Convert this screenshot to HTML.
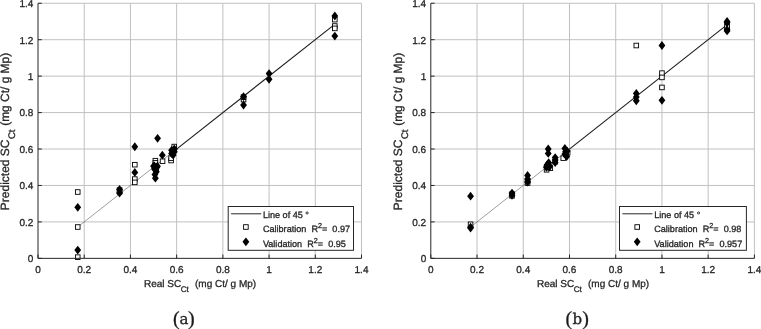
<!DOCTYPE html>
<html><head><meta charset="utf-8"><title>Predicted vs Real SC Ct</title>
<style>html,body{margin:0;padding:0;background:#fff;overflow:hidden}svg{display:block;font-family:'Liberation Sans', sans-serif}text{white-space:pre;text-rendering:geometricPrecision;stroke:#262626;stroke-width:0.3px;paint-order:stroke}</style></head>
<body><svg width="761" height="329" viewBox="0 0 761 329">
<rect width="761" height="329" fill="#fff"/>
<line x1="84.21" y1="258.35" x2="84.21" y2="3.25" stroke="#c0c0c0" stroke-width="1"/>
<line x1="38.0" y1="221.91" x2="361.5" y2="221.91" stroke="#c0c0c0" stroke-width="1"/>
<line x1="130.43" y1="258.35" x2="130.43" y2="3.25" stroke="#c0c0c0" stroke-width="1"/>
<line x1="38.0" y1="185.46" x2="361.5" y2="185.46" stroke="#c0c0c0" stroke-width="1"/>
<line x1="176.64" y1="258.35" x2="176.64" y2="3.25" stroke="#c0c0c0" stroke-width="1"/>
<line x1="38.0" y1="149.02" x2="361.5" y2="149.02" stroke="#c0c0c0" stroke-width="1"/>
<line x1="222.86" y1="258.35" x2="222.86" y2="3.25" stroke="#c0c0c0" stroke-width="1"/>
<line x1="38.0" y1="112.58" x2="361.5" y2="112.58" stroke="#c0c0c0" stroke-width="1"/>
<line x1="269.07" y1="258.35" x2="269.07" y2="3.25" stroke="#c0c0c0" stroke-width="1"/>
<line x1="38.0" y1="76.14" x2="361.5" y2="76.14" stroke="#c0c0c0" stroke-width="1"/>
<line x1="315.29" y1="258.35" x2="315.29" y2="3.25" stroke="#c0c0c0" stroke-width="1"/>
<line x1="38.0" y1="39.69" x2="361.5" y2="39.69" stroke="#c0c0c0" stroke-width="1"/>
<line x1="361.50" y1="258.35" x2="361.50" y2="3.25" stroke="#c0c0c0" stroke-width="1"/>
<line x1="38.0" y1="3.25" x2="361.5" y2="3.25" stroke="#c0c0c0" stroke-width="1"/>
<line x1="77.74" y1="227.01" x2="172.02" y2="152.67" stroke="#262626" stroke-width="0.45"/>
<line x1="170.87" y1="153.58" x2="334.00" y2="24.93" stroke="#1a1a1a" stroke-width="1.1"/>
<rect x="75.44" y="189.72" width="4.6" height="4.6" fill="#fff" stroke="#000" stroke-width="0.9"/>
<rect x="75.44" y="224.71" width="4.6" height="4.6" fill="#fff" stroke="#000" stroke-width="0.9"/>
<rect x="75.44" y="254.85" width="4.6" height="4.6" fill="#fff" stroke="#000" stroke-width="0.9"/>
<rect x="117.27" y="189.54" width="4.6" height="4.6" fill="#fff" stroke="#000" stroke-width="0.9"/>
<rect x="117.27" y="187.72" width="4.6" height="4.6" fill="#fff" stroke="#000" stroke-width="0.9"/>
<rect x="132.52" y="162.39" width="4.6" height="4.6" fill="#fff" stroke="#000" stroke-width="0.9"/>
<rect x="132.52" y="176.79" width="4.6" height="4.6" fill="#fff" stroke="#000" stroke-width="0.9"/>
<rect x="132.52" y="180.07" width="4.6" height="4.6" fill="#fff" stroke="#000" stroke-width="0.9"/>
<rect x="153.08" y="158.38" width="4.6" height="4.6" fill="#fff" stroke="#000" stroke-width="0.9"/>
<rect x="153.08" y="160.57" width="4.6" height="4.6" fill="#fff" stroke="#000" stroke-width="0.9"/>
<rect x="153.08" y="164.94" width="4.6" height="4.6" fill="#fff" stroke="#000" stroke-width="0.9"/>
<rect x="154.01" y="167.68" width="4.6" height="4.6" fill="#fff" stroke="#000" stroke-width="0.9"/>
<rect x="160.25" y="158.93" width="4.6" height="4.6" fill="#fff" stroke="#000" stroke-width="0.9"/>
<rect x="168.80" y="158.20" width="4.6" height="4.6" fill="#fff" stroke="#000" stroke-width="0.9"/>
<rect x="168.80" y="155.83" width="4.6" height="4.6" fill="#fff" stroke="#000" stroke-width="0.9"/>
<rect x="171.92" y="144.26" width="4.6" height="4.6" fill="#fff" stroke="#000" stroke-width="0.9"/>
<rect x="171.80" y="147.63" width="4.6" height="4.6" fill="#fff" stroke="#000" stroke-width="0.9"/>
<rect x="241.24" y="97.34" width="4.6" height="4.6" fill="#fff" stroke="#000" stroke-width="0.9"/>
<rect x="241.24" y="94.79" width="4.6" height="4.6" fill="#fff" stroke="#000" stroke-width="0.9"/>
<rect x="332.51" y="17.35" width="4.6" height="4.6" fill="#fff" stroke="#000" stroke-width="0.9"/>
<rect x="332.51" y="23.73" width="4.6" height="4.6" fill="#fff" stroke="#000" stroke-width="0.9"/>
<rect x="332.51" y="26.10" width="4.6" height="4.6" fill="#fff" stroke="#000" stroke-width="0.9"/>
<path d="M77.74 202.93L81.14 207.33L77.74 211.73L74.34 207.33Z" fill="#000"/>
<path d="M77.74 245.66L81.14 250.06L77.74 254.46L74.34 250.06Z" fill="#000"/>
<path d="M119.57 188.72L122.97 193.12L119.57 197.52L116.17 193.12Z" fill="#000"/>
<path d="M119.57 185.07L122.97 189.47L119.57 193.87L116.17 189.47Z" fill="#000"/>
<path d="M134.82 142.34L138.22 146.74L134.82 151.14L131.42 146.74Z" fill="#000"/>
<path d="M134.82 168.04L138.22 172.44L134.82 176.84L131.42 172.44Z" fill="#000"/>
<path d="M157.58 133.94L160.98 138.34L157.58 142.74L154.18 138.34Z" fill="#000"/>
<path d="M155.38 173.78L158.78 178.18L155.38 182.58L151.98 178.18Z" fill="#000"/>
<path d="M154.92 170.13L158.32 174.53L154.92 178.93L151.52 174.53Z" fill="#000"/>
<path d="M156.31 167.40L159.71 171.80L156.31 176.20L152.91 171.80Z" fill="#000"/>
<path d="M154.46 164.66L157.86 169.06L154.46 173.47L151.06 169.06Z" fill="#000"/>
<path d="M156.77 162.84L160.17 167.24L156.77 171.64L153.37 167.24Z" fill="#000"/>
<path d="M154.46 161.39L157.86 165.79L154.46 170.19L151.06 165.79Z" fill="#000"/>
<path d="M153.54 161.75L156.94 166.15L153.54 170.55L150.14 166.15Z" fill="#000"/>
<path d="M157.46 161.75L160.86 166.15L157.46 170.55L154.06 166.15Z" fill="#000"/>
<path d="M162.32 150.82L165.72 155.22L162.32 159.62L158.92 155.22Z" fill="#000"/>
<path d="M171.56 149.18L174.96 153.58L171.56 157.98L168.16 153.58Z" fill="#000"/>
<path d="M171.56 145.90L174.96 150.30L171.56 154.70L168.16 150.30Z" fill="#000"/>
<path d="M174.33 147.35L177.73 151.75L174.33 156.15L170.93 151.75Z" fill="#000"/>
<path d="M174.33 144.62L177.73 149.02L174.33 153.42L170.93 149.02Z" fill="#000"/>
<path d="M173.18 150.63L176.58 155.03L173.18 159.43L169.78 155.03Z" fill="#000"/>
<path d="M243.54 100.71L246.94 105.11L243.54 109.51L240.14 105.11Z" fill="#000"/>
<path d="M243.54 92.14L246.94 96.54L243.54 100.94L240.14 96.54Z" fill="#000"/>
<path d="M269.07 69.18L272.47 73.58L269.07 77.98L265.67 73.58Z" fill="#000"/>
<path d="M269.07 74.83L272.47 79.23L269.07 83.63L265.67 79.23Z" fill="#000"/>
<path d="M334.81 11.60L338.21 16.00L334.81 20.40L331.41 16.00Z" fill="#000"/>
<path d="M334.81 31.65L338.21 36.05L334.81 40.45L331.41 36.05Z" fill="#000"/>
<path d="M38.0 3.25V258.35H361.5" fill="none" stroke="#262626" stroke-width="1"/>
<line x1="38.00" y1="258.35" x2="38.00" y2="254.55" stroke="#262626" stroke-width="1"/>
<line x1="38.0" y1="258.35" x2="41.8" y2="258.35" stroke="#262626" stroke-width="1"/>
<text x="38.00" y="273.20000000000005" text-anchor="middle" font-size="10" fill="#262626">0</text>
<text x="33.4" y="262.25" text-anchor="end" font-size="10" fill="#262626">0</text>
<line x1="84.21" y1="258.35" x2="84.21" y2="254.55" stroke="#262626" stroke-width="1"/>
<line x1="38.0" y1="221.91" x2="41.8" y2="221.91" stroke="#262626" stroke-width="1"/>
<text x="84.21" y="273.20000000000005" text-anchor="middle" font-size="10" fill="#262626">0.2</text>
<text x="33.4" y="225.81" text-anchor="end" font-size="10" fill="#262626">0.2</text>
<line x1="130.43" y1="258.35" x2="130.43" y2="254.55" stroke="#262626" stroke-width="1"/>
<line x1="38.0" y1="185.46" x2="41.8" y2="185.46" stroke="#262626" stroke-width="1"/>
<text x="130.43" y="273.20000000000005" text-anchor="middle" font-size="10" fill="#262626">0.4</text>
<text x="33.4" y="189.36" text-anchor="end" font-size="10" fill="#262626">0.4</text>
<line x1="176.64" y1="258.35" x2="176.64" y2="254.55" stroke="#262626" stroke-width="1"/>
<line x1="38.0" y1="149.02" x2="41.8" y2="149.02" stroke="#262626" stroke-width="1"/>
<text x="176.64" y="273.20000000000005" text-anchor="middle" font-size="10" fill="#262626">0.6</text>
<text x="33.4" y="152.92" text-anchor="end" font-size="10" fill="#262626">0.6</text>
<line x1="222.86" y1="258.35" x2="222.86" y2="254.55" stroke="#262626" stroke-width="1"/>
<line x1="38.0" y1="112.58" x2="41.8" y2="112.58" stroke="#262626" stroke-width="1"/>
<text x="222.86" y="273.20000000000005" text-anchor="middle" font-size="10" fill="#262626">0.8</text>
<text x="33.4" y="116.48" text-anchor="end" font-size="10" fill="#262626">0.8</text>
<line x1="269.07" y1="258.35" x2="269.07" y2="254.55" stroke="#262626" stroke-width="1"/>
<line x1="38.0" y1="76.14" x2="41.8" y2="76.14" stroke="#262626" stroke-width="1"/>
<text x="269.07" y="273.20000000000005" text-anchor="middle" font-size="10" fill="#262626">1</text>
<text x="33.4" y="80.04" text-anchor="end" font-size="10" fill="#262626">1</text>
<line x1="315.29" y1="258.35" x2="315.29" y2="254.55" stroke="#262626" stroke-width="1"/>
<line x1="38.0" y1="39.69" x2="41.8" y2="39.69" stroke="#262626" stroke-width="1"/>
<text x="315.29" y="273.20000000000005" text-anchor="middle" font-size="10" fill="#262626">1.2</text>
<text x="33.4" y="43.59" text-anchor="end" font-size="10" fill="#262626">1.2</text>
<line x1="361.50" y1="258.35" x2="361.50" y2="254.55" stroke="#262626" stroke-width="1"/>
<line x1="38.0" y1="3.25" x2="41.8" y2="3.25" stroke="#262626" stroke-width="1"/>
<text x="361.50" y="273.20000000000005" text-anchor="middle" font-size="10" fill="#262626">1.4</text>
<text x="33.4" y="7.15" text-anchor="end" font-size="10" fill="#262626">1.4</text>
<text y="286.8" font-size="10" fill="#262626"><tspan x="144.0">Real SC</tspan><tspan x="180.7" y="291.6" font-size="8.2">Ct</tspan><tspan x="195.0" y="286.8">(mg Ct/ g Mp)</tspan></text>
<g transform="translate(8.9,0) rotate(-90)"><text font-size="12" fill="#262626"><tspan x="-210.2" y="0">Predicted SC</tspan><tspan x="-139.1" y="6.1" font-size="9.6">Ct</tspan><tspan x="-125.8" y="0" font-size="11.95">(mg Ct/ g Mp)</tspan></text></g>
<rect x="228.2" y="206.5" width="125.30000000000001" height="43.80000000000001" fill="#fff" stroke="#262626" stroke-width="1"/>
<line x1="231.10" y1="213.8" x2="261.20" y2="213.8" stroke="#262626" stroke-width="1"/>
<rect x="243.59999999999997" y="224.7" width="4.6" height="4.6" fill="#fff" stroke="#000" stroke-width="0.9"/>
<path d="M245.89999999999998 237.4L249.29999999999998 241.8L245.89999999999998 246.20000000000002L242.49999999999997 241.8Z" fill="#000"/>
<text x="262.9" y="217.6" font-size="9.1" fill="#262626">Line of 45 °</text>
<text x="262.9" y="232.4" font-size="9.1" fill="#262626">Calibration  R<tspan font-size="7.2" dy="-4">2</tspan><tspan dy="4">=  0.97</tspan></text>
<text x="262.9" y="247.2" font-size="9.1" fill="#262626">Validation  R<tspan font-size="7.2" dy="-4">2</tspan><tspan dy="4">=  0.95</tspan></text>
<text y="324.7" font-family="&quot;Liberation Serif&quot;, serif" font-size="20" fill="#1a1a1a" stroke="none"><tspan x="173.1">(</tspan><tspan x="188.0">)</tspan></text>
<text x="184.0" y="324.2" text-anchor="middle" font-family="&quot;DejaVu Serif&quot;, serif" font-size="15" fill="#1a1a1a" stroke="none">a</text>
<line x1="477.03" y1="258.35" x2="477.03" y2="3.25" stroke="#c0c0c0" stroke-width="1"/>
<line x1="430.8" y1="221.91" x2="754.4" y2="221.91" stroke="#c0c0c0" stroke-width="1"/>
<line x1="523.26" y1="258.35" x2="523.26" y2="3.25" stroke="#c0c0c0" stroke-width="1"/>
<line x1="430.8" y1="185.46" x2="754.4" y2="185.46" stroke="#c0c0c0" stroke-width="1"/>
<line x1="569.49" y1="258.35" x2="569.49" y2="3.25" stroke="#c0c0c0" stroke-width="1"/>
<line x1="430.8" y1="149.02" x2="754.4" y2="149.02" stroke="#c0c0c0" stroke-width="1"/>
<line x1="615.71" y1="258.35" x2="615.71" y2="3.25" stroke="#c0c0c0" stroke-width="1"/>
<line x1="430.8" y1="112.58" x2="754.4" y2="112.58" stroke="#c0c0c0" stroke-width="1"/>
<line x1="661.94" y1="258.35" x2="661.94" y2="3.25" stroke="#c0c0c0" stroke-width="1"/>
<line x1="430.8" y1="76.14" x2="754.4" y2="76.14" stroke="#c0c0c0" stroke-width="1"/>
<line x1="708.17" y1="258.35" x2="708.17" y2="3.25" stroke="#c0c0c0" stroke-width="1"/>
<line x1="430.8" y1="39.69" x2="754.4" y2="39.69" stroke="#c0c0c0" stroke-width="1"/>
<line x1="754.40" y1="258.35" x2="754.40" y2="3.25" stroke="#c0c0c0" stroke-width="1"/>
<line x1="430.8" y1="3.25" x2="754.4" y2="3.25" stroke="#c0c0c0" stroke-width="1"/>
<line x1="470.56" y1="227.01" x2="564.86" y2="152.67" stroke="#262626" stroke-width="0.45"/>
<line x1="563.71" y1="153.58" x2="726.89" y2="24.93" stroke="#1a1a1a" stroke-width="1.1"/>
<rect x="468.26" y="221.98" width="4.6" height="4.6" fill="#fff" stroke="#000" stroke-width="0.9"/>
<rect x="509.72" y="193.55" width="4.6" height="4.6" fill="#fff" stroke="#000" stroke-width="0.9"/>
<rect x="509.72" y="191.91" width="4.6" height="4.6" fill="#fff" stroke="#000" stroke-width="0.9"/>
<rect x="525.28" y="178.61" width="4.6" height="4.6" fill="#fff" stroke="#000" stroke-width="0.9"/>
<rect x="525.28" y="180.80" width="4.6" height="4.6" fill="#fff" stroke="#000" stroke-width="0.9"/>
<rect x="544.30" y="167.49" width="4.6" height="4.6" fill="#fff" stroke="#000" stroke-width="0.9"/>
<rect x="548.00" y="165.85" width="4.6" height="4.6" fill="#fff" stroke="#000" stroke-width="0.9"/>
<rect x="545.92" y="164.94" width="4.6" height="4.6" fill="#fff" stroke="#000" stroke-width="0.9"/>
<rect x="552.85" y="159.48" width="4.6" height="4.6" fill="#fff" stroke="#000" stroke-width="0.9"/>
<rect x="560.94" y="155.83" width="4.6" height="4.6" fill="#fff" stroke="#000" stroke-width="0.9"/>
<rect x="565.34" y="150.37" width="4.6" height="4.6" fill="#fff" stroke="#000" stroke-width="0.9"/>
<rect x="563.72" y="152.19" width="4.6" height="4.6" fill="#fff" stroke="#000" stroke-width="0.9"/>
<rect x="633.99" y="43.22" width="4.6" height="4.6" fill="#fff" stroke="#000" stroke-width="0.9"/>
<rect x="659.64" y="70.83" width="4.6" height="4.6" fill="#fff" stroke="#000" stroke-width="0.9"/>
<rect x="659.64" y="75.11" width="4.6" height="4.6" fill="#fff" stroke="#000" stroke-width="0.9"/>
<rect x="659.64" y="85.13" width="4.6" height="4.6" fill="#fff" stroke="#000" stroke-width="0.9"/>
<rect x="724.78" y="23.73" width="4.6" height="4.6" fill="#fff" stroke="#000" stroke-width="0.9"/>
<rect x="724.78" y="24.64" width="4.6" height="4.6" fill="#fff" stroke="#000" stroke-width="0.9"/>
<path d="M470.56 191.81L473.96 196.21L470.56 200.61L467.16 196.21Z" fill="#000"/>
<path d="M470.56 222.79L473.96 227.19L470.56 231.59L467.16 227.19Z" fill="#000"/>
<path d="M470.56 223.70L473.96 228.10L470.56 232.50L467.16 228.10Z" fill="#000"/>
<path d="M512.02 188.72L515.42 193.12L512.02 197.52L508.62 193.12Z" fill="#000"/>
<path d="M512.02 190.90L515.42 195.30L512.02 199.70L508.62 195.30Z" fill="#000"/>
<path d="M527.58 171.04L530.98 175.44L527.58 179.84L524.18 175.44Z" fill="#000"/>
<path d="M527.58 174.69L530.98 179.09L527.58 183.49L524.18 179.09Z" fill="#000"/>
<path d="M527.58 177.60L530.98 182.00L527.58 186.40L524.18 182.00Z" fill="#000"/>
<path d="M548.22 144.62L551.62 149.02L548.22 153.42L544.82 149.02Z" fill="#000"/>
<path d="M548.22 148.99L551.62 153.39L548.22 157.79L544.82 153.39Z" fill="#000"/>
<path d="M546.37 162.84L549.77 167.24L546.37 171.64L542.97 167.24Z" fill="#000"/>
<path d="M547.53 160.11L550.93 164.51L547.53 168.91L544.13 164.51Z" fill="#000"/>
<path d="M548.68 158.29L552.08 162.69L548.68 167.09L545.28 162.69Z" fill="#000"/>
<path d="M546.83 161.02L550.23 165.42L546.83 169.82L543.43 165.42Z" fill="#000"/>
<path d="M549.84 161.93L553.24 166.33L549.84 170.73L546.44 166.33Z" fill="#000"/>
<path d="M555.15 153.19L558.55 157.59L555.15 161.99L551.75 157.59Z" fill="#000"/>
<path d="M555.15 155.55L558.55 159.95L555.15 164.35L551.75 159.95Z" fill="#000"/>
<path d="M555.15 158.11L558.55 162.51L555.15 166.91L551.75 162.51Z" fill="#000"/>
<path d="M564.86 144.07L568.26 148.47L564.86 152.87L561.46 148.47Z" fill="#000"/>
<path d="M567.17 146.63L570.57 151.03L567.17 155.43L563.77 151.03Z" fill="#000"/>
<path d="M564.86 149.72L568.26 154.12L564.86 158.52L561.46 154.12Z" fill="#000"/>
<path d="M566.71 152.09L570.11 156.49L566.71 160.89L563.31 156.49Z" fill="#000"/>
<path d="M565.56 147.35L568.96 151.75L565.56 156.15L562.16 151.75Z" fill="#000"/>
<path d="M636.29 89.05L639.69 93.45L636.29 97.85L632.89 93.45Z" fill="#000"/>
<path d="M636.29 92.69L639.69 97.09L636.29 101.49L632.89 97.09Z" fill="#000"/>
<path d="M636.29 96.33L639.69 100.73L636.29 105.13L632.89 100.73Z" fill="#000"/>
<path d="M661.94 41.12L665.34 45.52L661.94 49.92L658.54 45.52Z" fill="#000"/>
<path d="M661.94 95.97L665.34 100.37L661.94 104.77L658.54 100.37Z" fill="#000"/>
<path d="M727.08 17.07L730.48 21.47L727.08 25.87L723.68 21.47Z" fill="#000"/>
<path d="M727.08 18.35L730.48 22.75L727.08 27.15L723.68 22.75Z" fill="#000"/>
<path d="M727.08 25.27L730.48 29.67L727.08 34.07L723.68 29.67Z" fill="#000"/>
<path d="M727.08 26.55L730.48 30.95L727.08 35.35L723.68 30.95Z" fill="#000"/>
<path d="M430.8 3.25V258.35H754.4" fill="none" stroke="#262626" stroke-width="1"/>
<line x1="430.80" y1="258.35" x2="430.80" y2="254.55" stroke="#262626" stroke-width="1"/>
<line x1="430.8" y1="258.35" x2="434.6" y2="258.35" stroke="#262626" stroke-width="1"/>
<text x="430.80" y="273.20000000000005" text-anchor="middle" font-size="10" fill="#262626">0</text>
<text x="426.2" y="262.25" text-anchor="end" font-size="10" fill="#262626">0</text>
<line x1="477.03" y1="258.35" x2="477.03" y2="254.55" stroke="#262626" stroke-width="1"/>
<line x1="430.8" y1="221.91" x2="434.6" y2="221.91" stroke="#262626" stroke-width="1"/>
<text x="477.03" y="273.20000000000005" text-anchor="middle" font-size="10" fill="#262626">0.2</text>
<text x="426.2" y="225.81" text-anchor="end" font-size="10" fill="#262626">0.2</text>
<line x1="523.26" y1="258.35" x2="523.26" y2="254.55" stroke="#262626" stroke-width="1"/>
<line x1="430.8" y1="185.46" x2="434.6" y2="185.46" stroke="#262626" stroke-width="1"/>
<text x="523.26" y="273.20000000000005" text-anchor="middle" font-size="10" fill="#262626">0.4</text>
<text x="426.2" y="189.36" text-anchor="end" font-size="10" fill="#262626">0.4</text>
<line x1="569.49" y1="258.35" x2="569.49" y2="254.55" stroke="#262626" stroke-width="1"/>
<line x1="430.8" y1="149.02" x2="434.6" y2="149.02" stroke="#262626" stroke-width="1"/>
<text x="569.49" y="273.20000000000005" text-anchor="middle" font-size="10" fill="#262626">0.6</text>
<text x="426.2" y="152.92" text-anchor="end" font-size="10" fill="#262626">0.6</text>
<line x1="615.71" y1="258.35" x2="615.71" y2="254.55" stroke="#262626" stroke-width="1"/>
<line x1="430.8" y1="112.58" x2="434.6" y2="112.58" stroke="#262626" stroke-width="1"/>
<text x="615.71" y="273.20000000000005" text-anchor="middle" font-size="10" fill="#262626">0.8</text>
<text x="426.2" y="116.48" text-anchor="end" font-size="10" fill="#262626">0.8</text>
<line x1="661.94" y1="258.35" x2="661.94" y2="254.55" stroke="#262626" stroke-width="1"/>
<line x1="430.8" y1="76.14" x2="434.6" y2="76.14" stroke="#262626" stroke-width="1"/>
<text x="661.94" y="273.20000000000005" text-anchor="middle" font-size="10" fill="#262626">1</text>
<text x="426.2" y="80.04" text-anchor="end" font-size="10" fill="#262626">1</text>
<line x1="708.17" y1="258.35" x2="708.17" y2="254.55" stroke="#262626" stroke-width="1"/>
<line x1="430.8" y1="39.69" x2="434.6" y2="39.69" stroke="#262626" stroke-width="1"/>
<text x="708.17" y="273.20000000000005" text-anchor="middle" font-size="10" fill="#262626">1.2</text>
<text x="426.2" y="43.59" text-anchor="end" font-size="10" fill="#262626">1.2</text>
<line x1="754.40" y1="258.35" x2="754.40" y2="254.55" stroke="#262626" stroke-width="1"/>
<line x1="430.8" y1="3.25" x2="434.6" y2="3.25" stroke="#262626" stroke-width="1"/>
<text x="754.40" y="273.20000000000005" text-anchor="middle" font-size="10" fill="#262626">1.4</text>
<text x="426.2" y="7.15" text-anchor="end" font-size="10" fill="#262626">1.4</text>
<text y="286.8" font-size="10" fill="#262626"><tspan x="537.0">Real SC</tspan><tspan x="573.7" y="291.6" font-size="8.2">Ct</tspan><tspan x="588.0" y="286.8">(mg Ct/ g Mp)</tspan></text>
<g transform="translate(401.6,0) rotate(-90)"><text font-size="12" fill="#262626"><tspan x="-210.2" y="0">Predicted SC</tspan><tspan x="-139.1" y="6.1" font-size="9.6">Ct</tspan><tspan x="-125.8" y="0" font-size="11.95">(mg Ct/ g Mp)</tspan></text></g>
<rect x="619.5" y="206.5" width="126.89999999999998" height="43.80000000000001" fill="#fff" stroke="#262626" stroke-width="1"/>
<line x1="622.40" y1="213.8" x2="652.50" y2="213.8" stroke="#262626" stroke-width="1"/>
<rect x="634.9000000000001" y="224.7" width="4.6" height="4.6" fill="#fff" stroke="#000" stroke-width="0.9"/>
<path d="M637.2 237.4L640.6 241.8L637.2 246.20000000000002L633.8000000000001 241.8Z" fill="#000"/>
<text x="654.2" y="217.6" font-size="9.1" fill="#262626">Line of 45 °</text>
<text x="654.2" y="232.4" font-size="9.1" fill="#262626">Calibration  R<tspan font-size="7.2" dy="-4">2</tspan><tspan dy="4">=  0.98</tspan></text>
<text x="654.2" y="247.2" font-size="9.1" fill="#262626">Validation  R<tspan font-size="7.2" dy="-4">2</tspan><tspan dy="4">=  0.957</tspan></text>
<text y="324.7" font-family="&quot;Liberation Serif&quot;, serif" font-size="20" fill="#1a1a1a" stroke="none"><tspan x="565.6">(</tspan><tspan x="582.2">)</tspan></text>
<text x="577.3" y="324.2" text-anchor="middle" font-family="&quot;DejaVu Serif&quot;, serif" font-size="15" fill="#1a1a1a" stroke="none">b</text>
</svg></body></html>
